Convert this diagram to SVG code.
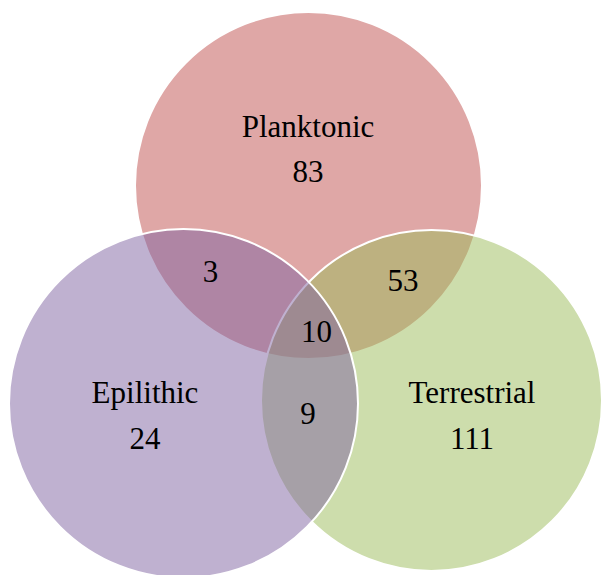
<svg xmlns="http://www.w3.org/2000/svg" width="603" height="575" viewBox="0 0 603 575">
<style>
.c{fill-opacity:0.5;stroke:#ffffff;stroke-width:2}
.t{font-family:"Liberation Serif","Times New Roman",serif;font-size:31px;fill:#000000;text-anchor:middle}
</style>
<rect x="0" y="0" width="603" height="575" fill="#ffffff"/>
<g id="planktonic"><circle class="c" cx="308.5" cy="185.5" r="173.5" fill="#C0504D"/></g>
<g id="terrestrial"><circle class="c" cx="431.5" cy="400.5" r="170.5" fill="#9BBB59"/></g>
<g id="epilithic"><circle class="c" cx="183.5" cy="403.5" r="174.5" fill="#8064A2"/></g>
<g id="labels">
<text class="t" x="308" y="137">Planktonic</text>
<text class="t" x="308" y="182">83</text>
<text class="t" x="145" y="403">Epilithic</text>
<text class="t" x="145" y="449">24</text>
<text class="t" x="472" y="403">Terrestrial</text>
<text class="t" x="472" y="449">111</text>
<text class="t" x="210.5" y="282">3</text>
<text class="t" x="403" y="291">53</text>
<text class="t" x="316.5" y="342">10</text>
<text class="t" x="308" y="424">9</text>
</g>
</svg>
